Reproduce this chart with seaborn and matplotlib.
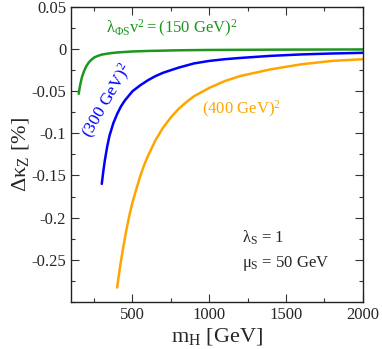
"""
Delta kappa_Z vs heavy Higgs mass for three mixing values
"""

import matplotlib
matplotlib.use("Agg")
import matplotlib.pyplot as plt
import seaborn as sns
import pandas as pd
from matplotlib.ticker import MultipleLocator

# values
m_150 = [150, 155, 160, 165, 170, 175, 185, 200, 215, 230, 250, 275, 300, 350, 400,
         500, 600, 800, 1000, 1250, 1500, 1750, 2000]
dk_150 = [-0.053, -0.047, -0.042, -0.038, -0.034, -0.031, -0.026, -0.020, -0.016,
          -0.013, -0.010, -0.008, -0.0065, -0.005, -0.004, -0.0028, -0.0022,
          -0.0014, -0.0010, -0.0008, -0.0006, -0.0005, -0.0004]

m_300 = [300, 310, 320, 335, 350, 375, 400, 425, 450, 500, 550, 600, 650, 700, 800,
         900, 1000, 1100, 1200, 1400, 1600, 1800, 2000]
dk_300 = [-0.160, -0.145, -0.132, -0.116, -0.103, -0.088, -0.077, -0.068, -0.061,
          -0.050, -0.043, -0.037, -0.032, -0.028, -0.022, -0.017, -0.014, -0.012,
          -0.0105, -0.0080, -0.0063, -0.0052, -0.0044]

m_400 = [400, 420, 440, 460, 480, 500, 525, 550, 575, 600, 650, 700, 750, 800, 850,
         900, 1000, 1100, 1200, 1300, 1400, 1600, 1800, 2000]
dk_400 = [-0.283, -0.257, -0.235, -0.215, -0.197, -0.182, -0.166, -0.151, -0.138,
          -0.127, -0.108, -0.093, -0.081, -0.071, -0.063, -0.056, -0.046, -0.038,
          -0.032, -0.028, -0.024, -0.018, -0.014, -0.012]

labels = ["(150 GeV)^2", "(300 GeV)^2", "(400 GeV)^2"]
colors = ["#1c961c", "#0000ff", "#ffa500"]

df = pd.concat([
    pd.DataFrame({"mH": m, "dk": d, "case": lab})
    for m, d, lab in zip([m_150, m_300, m_400], [dk_150, dk_300, dk_400], labels)
])

sns.set_style("ticks")
plt.rcParams["font.family"] = ["Liberation Serif", "DejaVu Serif"]
plt.rcParams["mathtext.fontset"] = "custom"
plt.rcParams["mathtext.rm"] = "Liberation Serif"
plt.rcParams["mathtext.it"] = "Liberation Serif"
plt.rcParams["mathtext.bf"] = "Liberation Serif:bold"

fig = plt.figure(figsize=(3.82, 3.49), dpi=100)
ax = fig.add_axes([0.186, 0.135, 0.764, 0.845])

sns.lineplot(data=df, x="mH", y="dk", hue="case", palette=colors,
             linewidth=1.8, legend=False, ax=ax, sort=False)

ax.set_xlim(100, 2000)
ax.set_ylim(-0.3, 0.05)
ax.xaxis.set_major_locator(MultipleLocator(500))
ax.xaxis.set_minor_locator(MultipleLocator(250))
ax.yaxis.set_major_locator(MultipleLocator(0.05))
ax.yaxis.set_minor_locator(MultipleLocator(0.025))
ax.set_xticks([500, 1000, 1500, 2000])
ax.set_yticks([0.05, 0, -0.05, -0.1, -0.15, -0.2, -0.25])
ax.set_yticklabels(["0.05", "0", "-0.05", "-0.1", "-0.15", "-0.2", "-0.25"])
ax.tick_params(which="both", direction="in", top=True, right=True, labelsize=12,
               width=0.8, color="#333333")
ax.tick_params(which="major", length=6)
ax.tick_params(which="minor", length=3)
for s in ax.spines.values():
    s.set_linewidth(1.0)
    s.set_color("#222222")

ax.set_xlabel(r"m$_\mathrm{H}$ [GeV]", fontsize=16, labelpad=2)
ax.set_ylabel(r"$\Delta\kappa_\mathrm{Z}$ [%]", fontsize=16, labelpad=0)

ax.text(325, 0.025, r"$\lambda_{\Phi\mathrm{S}}\mathrm{v}^2 = \mathrm{(150\ GeV)}^2$",
        color=colors[0], fontsize=12, ha="left", va="center")
ax.text(335, -0.062, r"$\mathrm{(300\ GeV)}^2$", color=colors[1], fontsize=12.5,
        ha="center", va="center", rotation=60)
ax.text(1210, -0.072, r"$\mathrm{(400\ GeV)}^2$", color=colors[2], fontsize=12,
        ha="center", va="center")
ax.text(1210, -0.224, r"$\lambda_\mathrm{S}$ = 1", fontsize=12, ha="left", va="center")
ax.text(1210, -0.255, r"$\mu_\mathrm{S}$ = 50 GeV", fontsize=12, ha="left", va="center")

fig.savefig("out.png", dpi=100)
